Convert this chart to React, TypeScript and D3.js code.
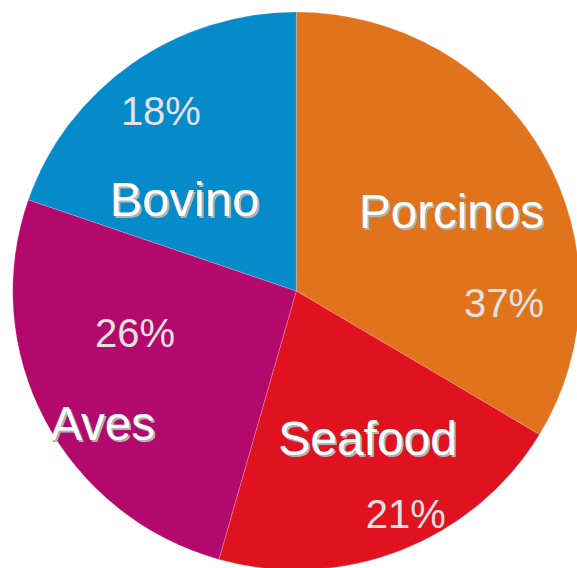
import React from "react";
import * as d3 from "d3";

const categories = ["Porcinos", "Seafood", "Aves", "Bovino"];
const shares = [33.6, 20.8, 25.9, 19.7];
const percentLabels = ["37%", "21%", "26%", "18%"];
const colors = ["#e1731c", "#e0121f", "#b4096c", "#058aca"];

// label placement (polar, degrees clockwise from 12 o'clock, radius px)
const nameAnchors: [number, number][] = [
  [67.9, 167.5],
  [156.5, 178.8],
  [232.4, 244.5],
  [303.7, 134.3],
];
const nameSizes = [47.5, 48, 47.5, 49];
const pctAnchors: [number, number][] = [
  [97.1, 209.3],
  [155.2, 261.2],
  [250.8, 170.7],
  [320.8, 214.2],
];

const W = 577;
const H = 568;
const cx = 296.3;
const cy = 291;
const ry = 279;
const rx = 283.6;

export default function App() {
  const pie = d3
    .pie<number>()
    .sort(null)
    .value((d) => d);
  const arcs = pie(shares);
  const arc = d3
    .arc<d3.PieArcDatum<number>>()
    .innerRadius(0)
    .outerRadius(ry);

  const polar = (a: number, r: number) => {
    const t = (a * Math.PI) / 180;
    return [cx + r * Math.sin(t), cy - r * Math.cos(t)];
  };

  return (
    <svg
      width={W}
      height={H}
      style={{ position: "absolute", left: 0, top: 0, overflow: "hidden" }}
      fontFamily="'Liberation Sans', Arial, sans-serif"
    >
      <g transform={`translate(${cx},${cy}) scale(${rx / ry},1)`}>
        {arcs.map((a, i) => (
          <path
            key={i}
            d={arc(a) || ""}
            fill={colors[i]}
            stroke="#ffffff"
            strokeOpacity={0.35}
            strokeWidth={0.6}
          />
        ))}
      </g>
      {categories.map((c, i) => {
        const [x, y] = polar(nameAnchors[i][0], nameAnchors[i][1]);
        return (
          <g key={"n" + i}>
            <text
              x={x + 2}
              y={y + 2}
              textAnchor="middle"
              fontSize={nameSizes[i]}
              fill="#b3b3b3"
            >
              {c}
            </text>
            <text
              x={x}
              y={y}
              textAnchor="middle"
              fontSize={nameSizes[i]}
              fill="#ffffff"
            >
              {c}
            </text>
          </g>
        );
      })}
      {percentLabels.map((p, i) => {
        const [x, y] = polar(pctAnchors[i][0], pctAnchors[i][1]);
        return (
          <text
            key={"p" + i}
            x={x}
            y={y}
            textAnchor="middle"
            fontSize={40}
            fill="#e2e2e2"
          >
            {p}
          </text>
        );
      })}
    </svg>
  );
}
